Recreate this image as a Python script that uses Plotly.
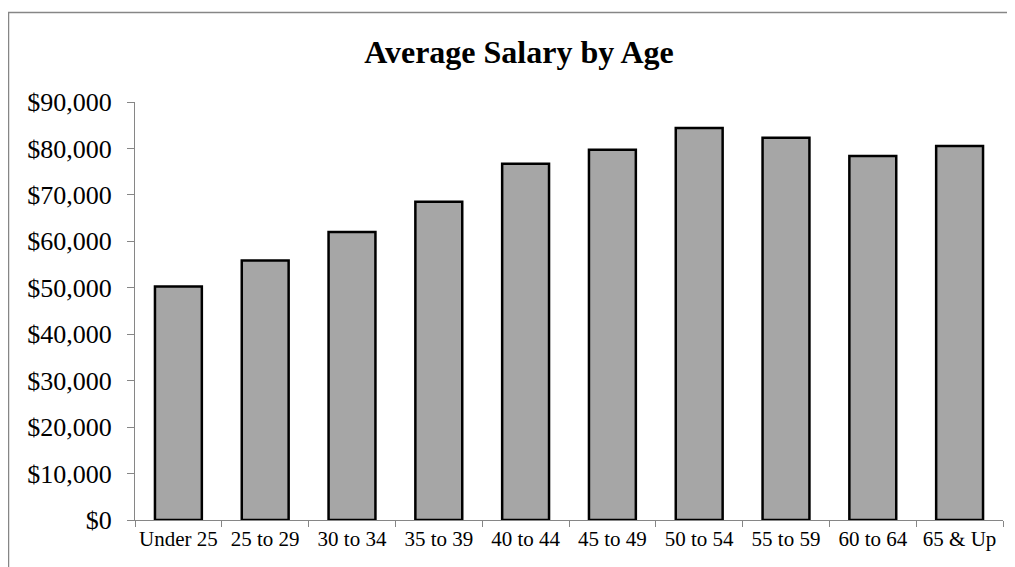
import plotly.graph_objects as go

categories = ["Under 25", "25 to 29", "30 to 34", "35 to 39", "40 to 44",
              "45 to 49", "50 to 54", "55 to 59", "60 to 64", "65 & Up"]
salaries = [50300, 55900, 62000, 68500, 76700, 79700, 84400, 82300, 78400, 80500]

W, H = 1015, 567
OFF = 8  # page offset of the plot div
L, R, T, B = 135 - OFF, 20, 102 - OFF, 55
pw, ph = W - L - R, H - T - B

fig = go.Figure(go.Bar(
    x=categories, y=salaries,
    marker=dict(color="#A6A6A6", line=dict(color="black", width=2.5)),
))

axis_grey = "#868686"
fig.update_layout(
    width=W, height=H,
    margin=dict(l=L, r=R, t=T, b=B, pad=0, autoexpand=False),
    paper_bgcolor="white", plot_bgcolor="white",
    bargap=0.46,
    showlegend=False,
    font=dict(family="Liberation Serif", color="black"),
    title=dict(text="<b>Average Salary by Age</b>", font=dict(size=32, family="Liberation Serif", color="black"),
               xref="container", x=(519 - OFF) / W, xanchor="center",
               yref="container", y=1 - (52 - OFF) / H, yanchor="middle"),
    xaxis=dict(type="category", showline=True, linecolor=axis_grey, linewidth=1.25,
               ticks="outside", tickson="boundaries", ticklen=6, tickcolor=axis_grey, tickwidth=1.25,
               tickangle=0, automargin=False,
               tickfont=dict(size=21, family="Liberation Serif", color="black"),
               showgrid=False, zeroline=False),
    yaxis=dict(range=[0, 90000], dtick=10000, tickprefix="$", tickformat=",",
               showline=True, linecolor=axis_grey, linewidth=1.25,
               ticks="outside", ticklen=7, tickcolor=axis_grey, tickwidth=1.25,
               automargin=False, ticklabelstandoff=10,
               tickfont=dict(size=26, family="Liberation Serif", color="black"),
               showgrid=False, zeroline=False),
)

# outer chart frame
x0 = (8.5 - OFF - L) / pw
y1 = (H - B - (12.5 - OFF)) / ph
fig.add_shape(type="rect", xref="paper", yref="paper",
              x0=x0, x1=1.2, y0=-0.5, y1=y1,
              line=dict(color=axis_grey, width=1.5), layer="below")

fig.write_html("out.html")
